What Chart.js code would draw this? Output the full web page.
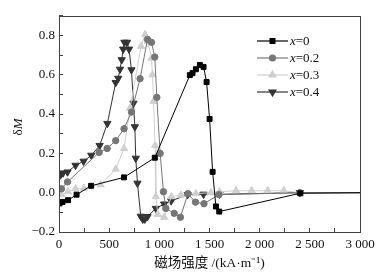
<!DOCTYPE html>
<html>
<head>
<meta charset="utf-8">
<script src="https://cdn.jsdelivr.net/npm/chart.js@4/dist/chart.umd.min.js"></script>
<style>
  html, body { margin: 0; padding: 0; background: #fff; }
  #wrap { width: 387px; height: 274px; }
</style>
</head>
<body>
<div id="wrap"><canvas id="chart"></canvas></div>
<script>
// composition labels for the legend
const seriesNames = ["0", "0.2", "0.3", "0.4"];

// x = 0  (field kA/m, deltaM)
const h0 = [5, 35, 90, 175, 320, 648, 955, 1304, 1331, 1364, 1404, 1441, 1471, 1501, 1531, 1564, 1597, 2405, 3000];
const m0 = [-0.055, -0.047, -0.038, -0.01, 0.035, 0.078, 0.178, 0.598, 0.608, 0.628, 0.65, 0.64, 0.563, 0.375, 0.106, -0.07, -0.096, -0.003, 0];

// x = 0.2
const h2 = [25, 85, 400, 480, 565, 648, 722, 808, 882, 922, 955, 975, 1008, 1041, 1065, 1148, 1210, 1285, 1360, 1445, 1595, 2400, 3000];
const m2 = [0.02, 0.055, 0.205, 0.225, 0.265, 0.325, 0.41, 0.58, 0.78, 0.765, 0.69, 0.485, 0.2, 0.005, -0.08, -0.105, -0.125, -0.005, -0.048, -0.056, -0.01, 0, 0];

// x = 0.3
const h3 = [25, 90, 165, 248, 415, 565, 648, 708, 818, 858, 885, 922, 932, 942, 958, 965, 985, 1048, 1120, 1215, 1365, 1515, 1600, 1765, 1920, 2080, 2240, 2400, 3000];
const m3 = [-0.01, 0.005, 0.02, 0.023, 0.04, 0.12, 0.225, 0.43, 0.745, 0.805, 0.77, 0.685, 0.6, 0.465, 0.24, -0.02, -0.11, -0.125, -0.02, -0.012, -0.005, 0, 0.005, 0.01, 0.01, 0.01, 0.01, 0, 0];

// x = 0.4
const h4 = [15, 40, 85, 165, 245, 322, 405, 482, 565, 590, 608, 625, 640, 652, 678, 698, 722, 742, 756, 765, 782, 815, 835, 855, 882, 965, 1048, 1118, 1282, 1440, 1600, 2400, 3000];
const m4 = [0.09, 0.1, 0.105, 0.139, 0.16, 0.19, 0.24, 0.352, 0.56, 0.582, 0.628, 0.676, 0.73, 0.765, 0.765, 0.73, 0.625, 0.455, 0.335, 0.175, 0.048, -0.12, -0.135, -0.135, -0.122, -0.08, -0.058, -0.042, -0.01, -0.008, -0.008, 0, 0];

const xTickLabels = ["0", "500", "1 000", "1 500", "2 000", "2 500", "3 000"];

function pairs(hs, ms) {
  return hs.map((h, i) => ({ x: h, y: ms[i] }));
}

const serif = "'Liberation Serif', 'Times New Roman', serif";

function makeSet(name, hs, ms, color, style, radius, rotation) {
  return {
    label: "x=" + name,
    data: pairs(hs, ms),
    borderColor: color,
    backgroundColor: color,
    borderWidth: 1,
    pointStyle: style,
    pointRotation: rotation,
    pointBorderWidth: 1,
    // the last point only carries the line to the right edge
    pointRadius: (c) => (c.raw && c.raw.x >= 3000 ? 0 : radius),
    tension: 0,
    fill: false,
  };
}

const datasets = [
  makeSet(seriesNames[0], h0, m0, "#000000", "rect", 3.5, 0),
  makeSet(seriesNames[1], h2, m2, "#767676", "circle", 3.2, 0),
  makeSet(seriesNames[2], h3, m3, "#cfcfcf", "triangle", 4.2, 0),
  makeSet(seriesNames[3], h4, m4, "#333333", "triangle", 4.2, 180),
];

// frame round the plot area, y title (upright delta, italic M) and the legend
const framePlugin = {
  id: "frame",
  afterDraw(chart) {
    const a = chart.chartArea;
    const ctx = chart.ctx;
    ctx.save();
    ctx.strokeStyle = "#444";
    ctx.lineWidth = 1;
    ctx.strokeRect(Math.round(a.left) + 0.5, Math.round(a.top) + 0.5,
      Math.round(a.right - a.left), Math.round(a.bottom - a.top));

    // y axis title
    ctx.save();
    ctx.translate(19, 127);
    ctx.rotate(-Math.PI / 2);
    ctx.fillStyle = "#111";
    ctx.textBaseline = "middle";
    ctx.textAlign = "left";
    ctx.font = "13px " + serif;
    const wd = ctx.measureText("δ").width;
    ctx.font = "italic 13px " + serif;
    const wm = ctx.measureText("M").width;
    const start = -(wd + wm) / 2;
    ctx.font = "13px " + serif;
    ctx.fillText("δ", start, 0);
    ctx.font = "italic 13px " + serif;
    ctx.fillText("M", start + wd, 0);
    ctx.restore();

    // legend
    const x0 = 257, x1 = 288;
    chart.data.datasets.forEach((ds, i) => {
      const y = 41 + i * 17;
      ctx.strokeStyle = ds.borderColor;
      ctx.lineWidth = 1.2;
      ctx.beginPath();
      ctx.moveTo(x0, y);
      ctx.lineTo(x1, y);
      ctx.stroke();
      ctx.fillStyle = ds.backgroundColor;
      Chart.helpers.drawPoint(ctx, {
        pointStyle: ds.pointStyle,
        rotation: ds.pointRotation,
        radius: ds.pointStyle === "rect" ? 3.4 : (ds.pointStyle === "circle" ? 3 : 4),
        borderWidth: 1,
      }, (x0 + x1) / 2, y);
      ctx.fillStyle = "#111";
      ctx.textBaseline = "middle";
      ctx.textAlign = "left";
      ctx.font = "italic 13px " + serif;
      ctx.fillText("x", x1 + 2, y + 1);
      const w = ctx.measureText("x").width;
      ctx.font = "13px " + serif;
      ctx.fillText("=" + seriesNames[i], x1 + 2 + w, y + 1);
    });
    ctx.restore();
  },
};

new Chart(document.getElementById("chart"), {
  type: "line",
  data: { datasets: datasets },
  options: {
    responsive: true,
    maintainAspectRatio: false,
    animation: false,
    layout: { padding: { top: 10, right: 27, left: 0, bottom: 0 } },
    plugins: {
      legend: { display: false },
      tooltip: { enabled: false },
    },
    scales: {
      x: {
        type: "linear",
        min: 0,
        max: 3000,
        afterFit: (s) => { s.height = 42; },
        border: { display: true, color: "#444", width: 1 },
        grid: { drawOnChartArea: false, drawTicks: true, tickLength: -4, color: "#444" },
        ticks: {
          stepSize: 250,
          padding: 9,
          maxRotation: 0,
          autoSkip: false,
          color: "#111",
          font: { family: serif, size: 13 },
          callback: (v) => (v % 500 === 0 ? xTickLabels[v / 500] : ""),
        },
        title: {
          display: true,
          text: "磁场强度 /(kA·m⁻¹)",
          color: "#111",
          font: { family: "'Liberation Serif', 'Noto Sans CJK SC', serif", size: 13.5 },
          padding: { top: 0, bottom: 2 },
        },
      },
      y: {
        min: -0.2,
        max: 0.9,
        afterFit: (s) => { s.width = 59; },
        border: { display: true, color: "#444", width: 1 },
        grid: { drawOnChartArea: false, drawTicks: true, tickLength: -4, color: "#444" },
        ticks: {
          stepSize: 0.1,
          padding: 8,
          autoSkip: false,
          color: "#111",
          font: { family: serif, size: 13 },
          callback: (v) => {
            const k = Math.round(v * 10);
            if (k % 2 !== 0 || k > 8) return "";
            return (k < 0 ? "\u2212" : "") + Math.abs(v).toFixed(1);
          },
        },
      },
    },
  },
  plugins: [framePlugin],
});
</script>
</body>
</html>
